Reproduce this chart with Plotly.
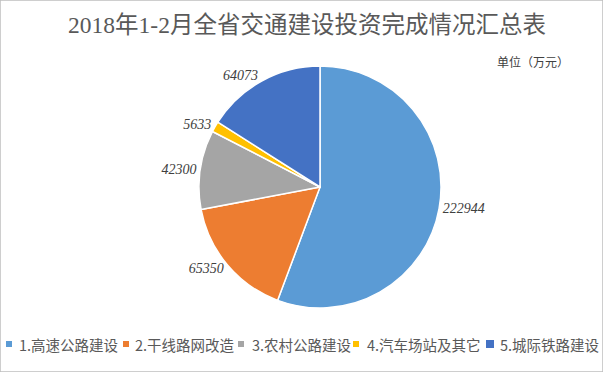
import plotly.graph_objects as go

categories = ["1.高速公路建设", "2.干线路网改造", "3.农村公路建设", "4.汽车场站及其它", "5.城际铁路建设"]
values = [222944, 65350, 42300, 5633, 64073]
colors = ["#5B9BD5", "#ED7D31", "#A5A5A5", "#FFC000", "#4472C4"]

W, H = 603, 372
cx, cy, r = 320, 187, 121

# custom legend layout (pixel positions of each entry's square / text start)
legend_sq_x = [6, 123, 238, 353, 486]
legend_sq_size = [6, 6, 6, 6, 8]
legend_txt_x = [17, 133, 250, 365, 498]
legend_y = 344

fig = go.Figure(go.Pie(
    labels=categories,
    values=values,
    sort=False,
    direction="clockwise",
    rotation=0,
    marker=dict(colors=colors, line=dict(color="white", width=1.5)),
    texttemplate="%{value:.0f}",
    textposition="outside",
    outsidetextfont=dict(family="Liberation Serif", size=14, color="#404040", style="italic"),
    domain=dict(x=[(cx - r) / W, (cx + r) / W], y=[1 - (cy + r) / H, 1 - (cy - r) / H]),
    showlegend=False,
    hoverinfo="label+value+percent",
))

annotations = [dict(
    text="单位（万元）", x=533 / W, y=1 - 62 / H, xref="paper", yref="paper",
    showarrow=False, xanchor="center", yanchor="middle",
    font=dict(family="Noto Sans CJK SC", size=12, color="#404040"),
)]
shapes = [dict(type="rect", xref="paper", yref="paper", x0=0, y0=0, x1=1, y1=1,
               line=dict(color="#BFBFBF", width=1.5), layer="above")]

for name, col, sx, ss, tx in zip(categories, colors, legend_sq_x, legend_sq_size, legend_txt_x):
    shapes.append(dict(type="rect", xref="paper", yref="paper",
                       x0=sx / W, x1=(sx + ss) / W,
                       y0=1 - (legend_y + ss / 2) / H, y1=1 - (legend_y - ss / 2) / H,
                       fillcolor=col, line=dict(width=0)))
    annotations.append(dict(text=name, x=tx / W, y=1 - legend_y / H, xref="paper", yref="paper",
                            showarrow=False, xanchor="left", yanchor="middle",
                            font=dict(family="Noto Sans CJK SC", size=14.5, color="#595959")))

fig.update_layout(
    width=W, height=H,
    margin=dict(l=0, r=0, t=0, b=0),
    paper_bgcolor="white",
    title=dict(
        text="2018年1-2月全省交通建设投资完成情况汇总表",
        x=307 / W, xanchor="center", y=1 - 25 / H, yanchor="middle",
        font=dict(family="Liberation Serif, Noto Sans CJK SC", size=23.5, color="#595959"),
    ),
    showlegend=False,
    annotations=annotations,
    shapes=shapes,
)

fig.write_html("out.html", config={"displayModeBar": False},
               post_script="document.body.style.margin='0';document.body.style.padding='0';document.body.style.overflow='hidden';")
